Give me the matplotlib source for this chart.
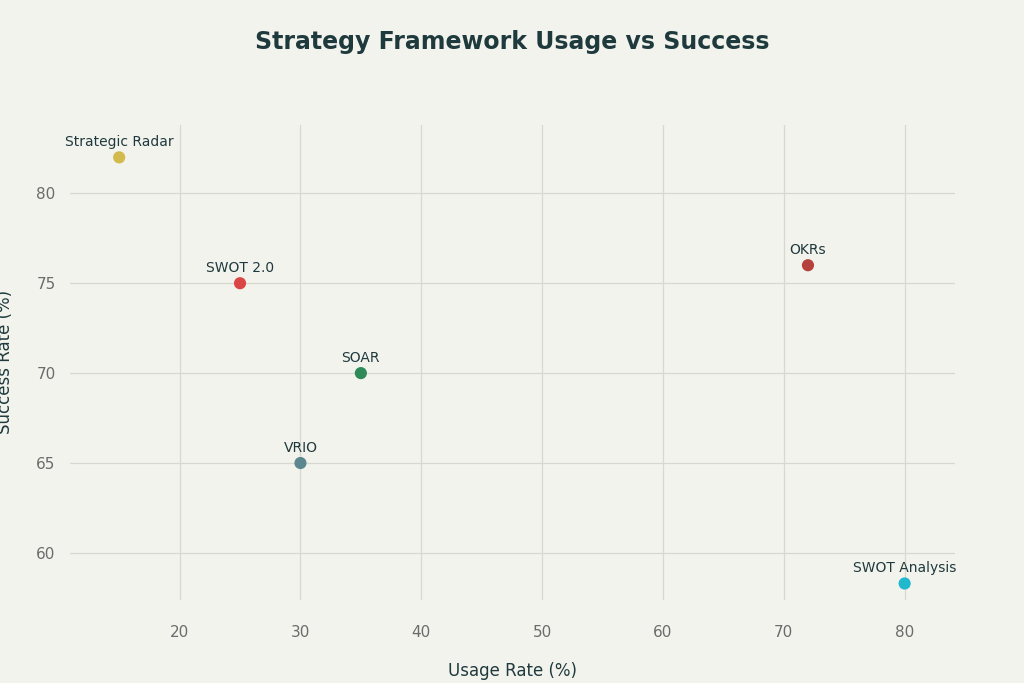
import matplotlib
matplotlib.use("Agg")
import matplotlib.pyplot as plt

names = ["Strategic Radar", "SWOT 2.0", "SOAR", "VRIO", "OKRs", "SWOT Analysis"]
usage = [15, 25, 35, 30, 72, 80]
success = [82, 75, 70, 65, 76, 58.3]
colors = ["#D2BA4C", "#DB4545", "#2E8B57", "#5D878F", "#B4413C", "#1FB8CD"]

bg = "#F3F3EE"
fig = plt.figure(figsize=(10.24, 6.83), dpi=100, facecolor=bg)
ax = fig.add_axes([0.068, 0.122, 0.865, 0.695], facecolor=bg)
ax.scatter(usage, success, c=colors, s=60, zorder=3)
for n, x, y in zip(names, usage, success):
    ax.annotate(n, (x, y), xytext=(0, 6), textcoords="offset points",
                ha="center", va="bottom", fontsize=10, color="#1F3A3D")
ax.set_xlim(10.9, 84.2)
ax.set_ylim(57.4, 83.8)
ax.set_xticks([20, 30, 40, 50, 60, 70, 80])
ax.set_yticks([60, 65, 70, 75, 80])
ax.grid(True, color="#D8D8CF", linewidth=0.9)
ax.set_axisbelow(True)
for s in ax.spines.values():
    s.set_visible(False)
ax.tick_params(length=0, labelsize=11, colors="#6B6B6B")
ax.tick_params(axis="x", pad=18)
ax.tick_params(axis="y", pad=10)
ax.set_xlabel("Usage Rate (%)", fontsize=12, color="#1F3A3D", labelpad=16)
ax.set_ylabel("Success Rate (%)", fontsize=12, color="#1F3A3D", labelpad=16)
fig.text(0.5, 0.938, "Strategy Framework Usage vs Success", ha="center", va="center",
         fontsize=17, fontweight="semibold", color="#1F3A3D")
fig.savefig("out.png", dpi=100, facecolor=bg)
